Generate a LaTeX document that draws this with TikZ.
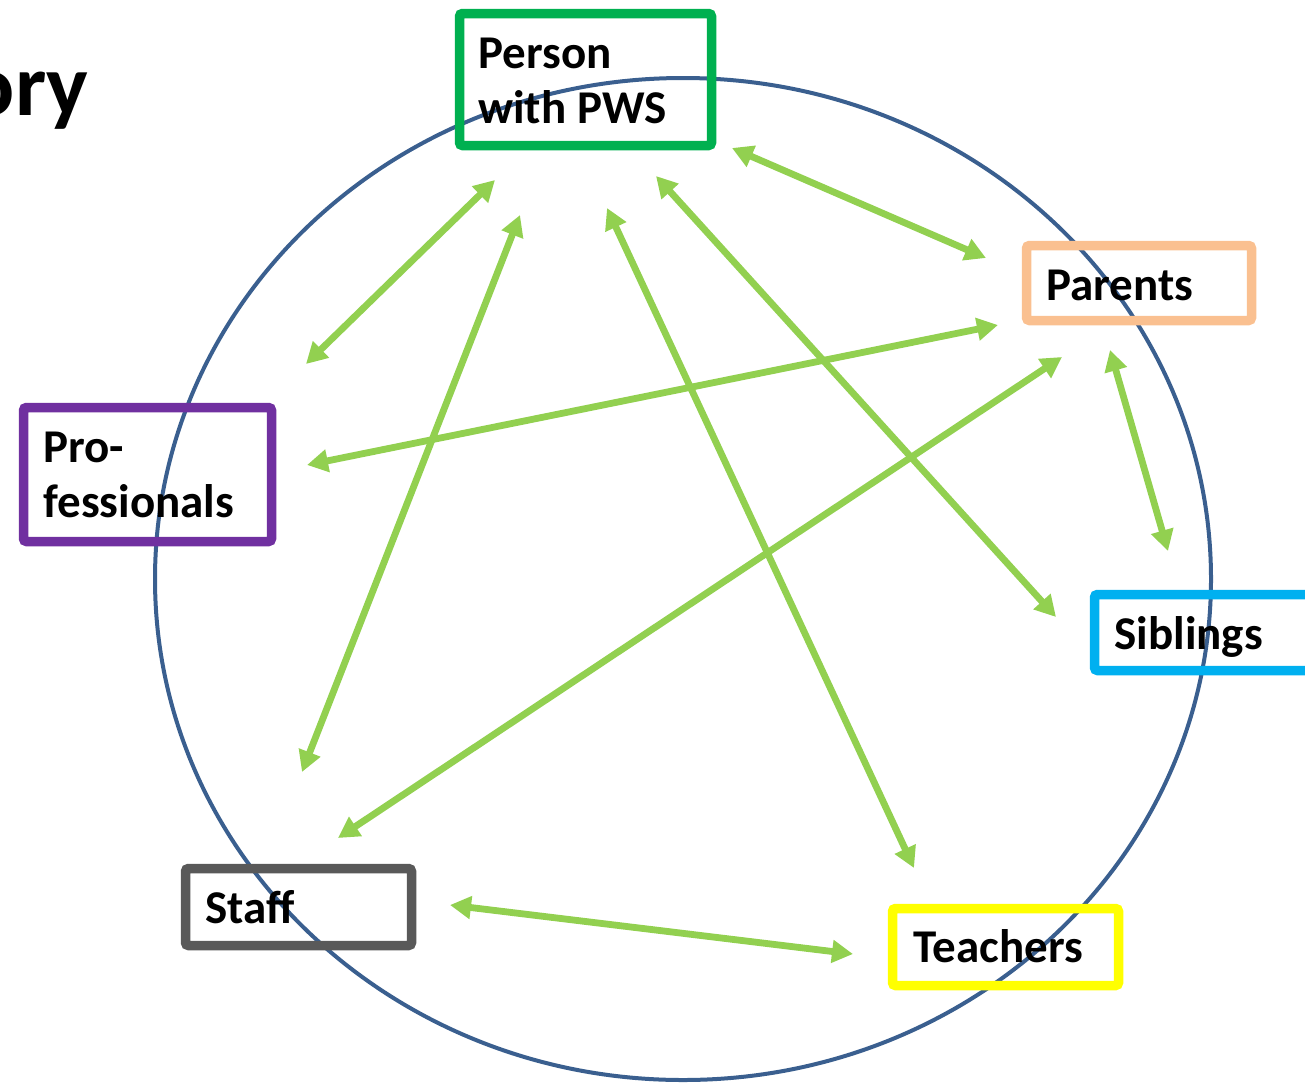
\documentclass[tikz,border=0pt]{standalone}
\usepackage{fontspec}
\setmainfont{Carlito}
\usetikzlibrary{arrows.meta}
\definecolor{arrgreen}{HTML}{92D050}
\definecolor{circblue}{HTML}{3A5F8F}
\definecolor{cgreen}{HTML}{00B050}
\definecolor{corange}{HTML}{FAC090}
\definecolor{cblue}{HTML}{00B0F0}
\definecolor{cpurple}{HTML}{7030A0}
\definecolor{cgray}{HTML}{595959}
\definecolor{cyellow}{HTML}{FFFF00}
\tikzset{
  box/.style={draw=#1, line width=4.75pt, rounded corners=1.5pt, inner sep=0pt},
  lbl/.style={anchor=base west, inner sep=0pt, font=\fontsize{23.5}{27.5}\selectfont\bfseries, align=left},
  arr/.style={draw=arrgreen, line width=3.4pt, {Triangle[length=10.5pt,width=11pt]}-{Triangle[length=10.5pt,width=11pt]}},
}
\begin{document}
\begin{tikzpicture}[x=0.5pt,y=-0.5pt]
\useasboundingbox (0,0) rectangle (1305,1082);
\clip (0,0) rectangle (1305,1082);
% title fragment
\node[anchor=base east, inner sep=0pt, font=\fontsize{44}{50}\selectfont\bfseries] (title) at (89,115) {ory};
% circle
\draw[circblue, line width=2pt] (683,579) ellipse [x radius=528, y radius=501];
% arrows
\coordinate (a1) at (732,148);  \coordinate (b1) at (986,258);
\coordinate (a2) at (495,180);  \coordinate (b2) at (306,364);
\coordinate (a3) at (520,215);  \coordinate (b3) at (302,772);
\coordinate (a4) at (607,208);  \coordinate (b4) at (914,868);
\coordinate (a5) at (656,176);  \coordinate (b5) at (1056,617);
\coordinate (a6) at (998,325);  \coordinate (b6) at (307,465);
\coordinate (a7) at (1110,350); \coordinate (b7) at (1168,551);
\coordinate (a8) at (1062,357); \coordinate (b8) at (338,838);
\coordinate (a9) at (450,905);  \coordinate (b9) at (853,954);
\foreach \i in {1,...,9} { \draw[arr] (a\i) -- (b\i); }
% boxes
\node[box=cgreen, minimum width=126pt, minimum height=66pt] (person) at (585.5,79.5) {};
\node[box=corange, minimum width=112.5pt, minimum height=37.5pt] (parents) at (1139,283) {};
\node[box=cblue, minimum width=112.5pt, minimum height=38pt] (siblings) at (1207,632.5) {};
\node[box=cpurple, minimum width=124pt, minimum height=67pt] (prof) at (147.5,474.5) {};
\node[box=cgray, minimum width=113pt, minimum height=38.5pt] (staff) at (298.5,907) {};
\node[box=cyellow, minimum width=113pt, minimum height=38.5pt] (teachers) at (1005.5,947) {};
% labels
\node[lbl] (tperson) at (478,123) {Person\\with PWS};
\node[lbl] (tparents) at (1046,300) {Parents};
\node[lbl] (tsiblings) at (1114,649) {Siblings};
\node[lbl] (tprof) at (43,517) {Pro-\\fessionals};
\node[lbl] (tstaff) at (205,923) {Staff};
\node[lbl] (tteachers) at (913,962) {Teachers};
\end{tikzpicture}
\end{document}
